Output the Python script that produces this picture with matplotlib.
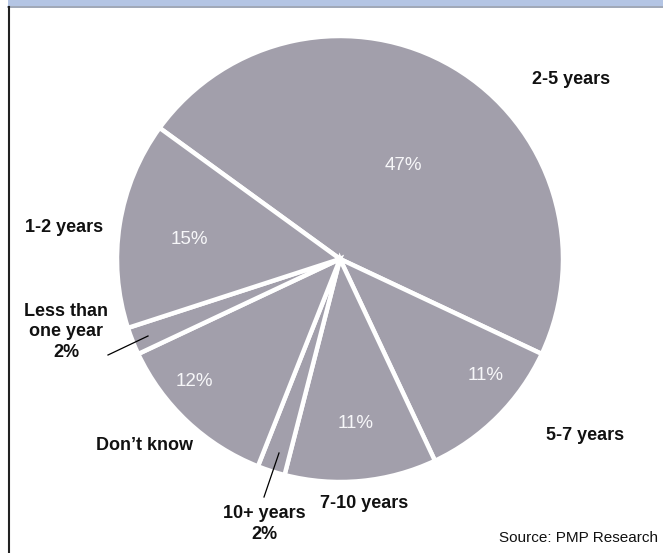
import matplotlib
matplotlib.use("Agg")
import matplotlib.pyplot as plt
from matplotlib.patches import Rectangle

FONT = ["Liberation Sans Narrow", "Liberation Sans", "DejaVu Sans"]
plt.rcParams["font.family"] = FONT

# data (clockwise from the upper-left boundary)
labels = ["2-5 years", "5-7 years", "7-10 years", "10+ years", "Don\u2019t know",
          "Less than\none year", "1-2 years"]
values = [47, 11, 11, 2, 12, 2, 15]

GRAY = "#a29fab"
W, H = 663, 553

fig = plt.figure(figsize=(W / 100, H / 100), dpi=100)

# pie axes: centre (340,259) px, radius 223 px
cx, cy, r = 340, 259, 223
pax = fig.add_axes([(cx - r) / W, (H - cy - r) / H, 2 * r / W, 2 * r / H])
pax.pie(values, startangle=144, counterclock=False, colors=[GRAY] * len(values),
        wedgeprops=dict(edgecolor="white", linewidth=3.2))
pax.set_xlim(-1, 1); pax.set_ylim(-1, 1)
pax.set_aspect("equal")

# overlay in pixel coordinates for text and frame
ax = fig.add_axes([0, 0, 1, 1], facecolor="none")
ax.set_xlim(0, W); ax.set_ylim(H, 0); ax.axis("off")

ax.add_patch(Rectangle((8, 0), W - 8, 6, color="#b4c5e4", lw=0))
ax.plot([8, W], [6.5, 6.5], color="#8f98aa", lw=1.2)
ax.plot([8.5, 8.5], [7, H], color="#222222", lw=1.5)

lbl = dict(fontsize=13, fontweight="bold", color="#111111", ha="center", va="center")
pc = dict(fontsize=13.5, color="#f7f7f9", ha="center", va="center")

# outside category labels
ax.text(571, 80, labels[0], **lbl)
ax.text(585, 436, labels[1], **lbl)
ax.text(364, 503, labels[2], **lbl)
ax.text(264, 524, f"{labels[3]}\n{values[3]}%", linespacing=1.25, **lbl)
ax.text(66, 332, f"{labels[5]}\n{values[5]}%", linespacing=1.25, **lbl)
ax.text(145, 446, labels[4], **lbl)
ax.text(64, 228, labels[6], **lbl)

# inside percentages
ax.text(403, 166, f"{values[0]}%", **pc)
ax.text(486, 376, f"{values[1]}%", **pc)
ax.text(356, 424, f"{values[2]}%", **pc)
ax.text(194, 382, f"{values[4]}%", **pc)
ax.text(189, 240, f"{values[6]}%", **pc)

# leader lines for the small slices
ax.plot([108, 148], [355, 336], color="black", lw=0.9)
ax.plot([264, 279], [497, 453], color="black", lw=0.9)

ax.text(658, 538, "Source: PMP Research", fontsize=11, ha="right", va="center",
        color="#111111")

fig.savefig("out.png", dpi=100)
